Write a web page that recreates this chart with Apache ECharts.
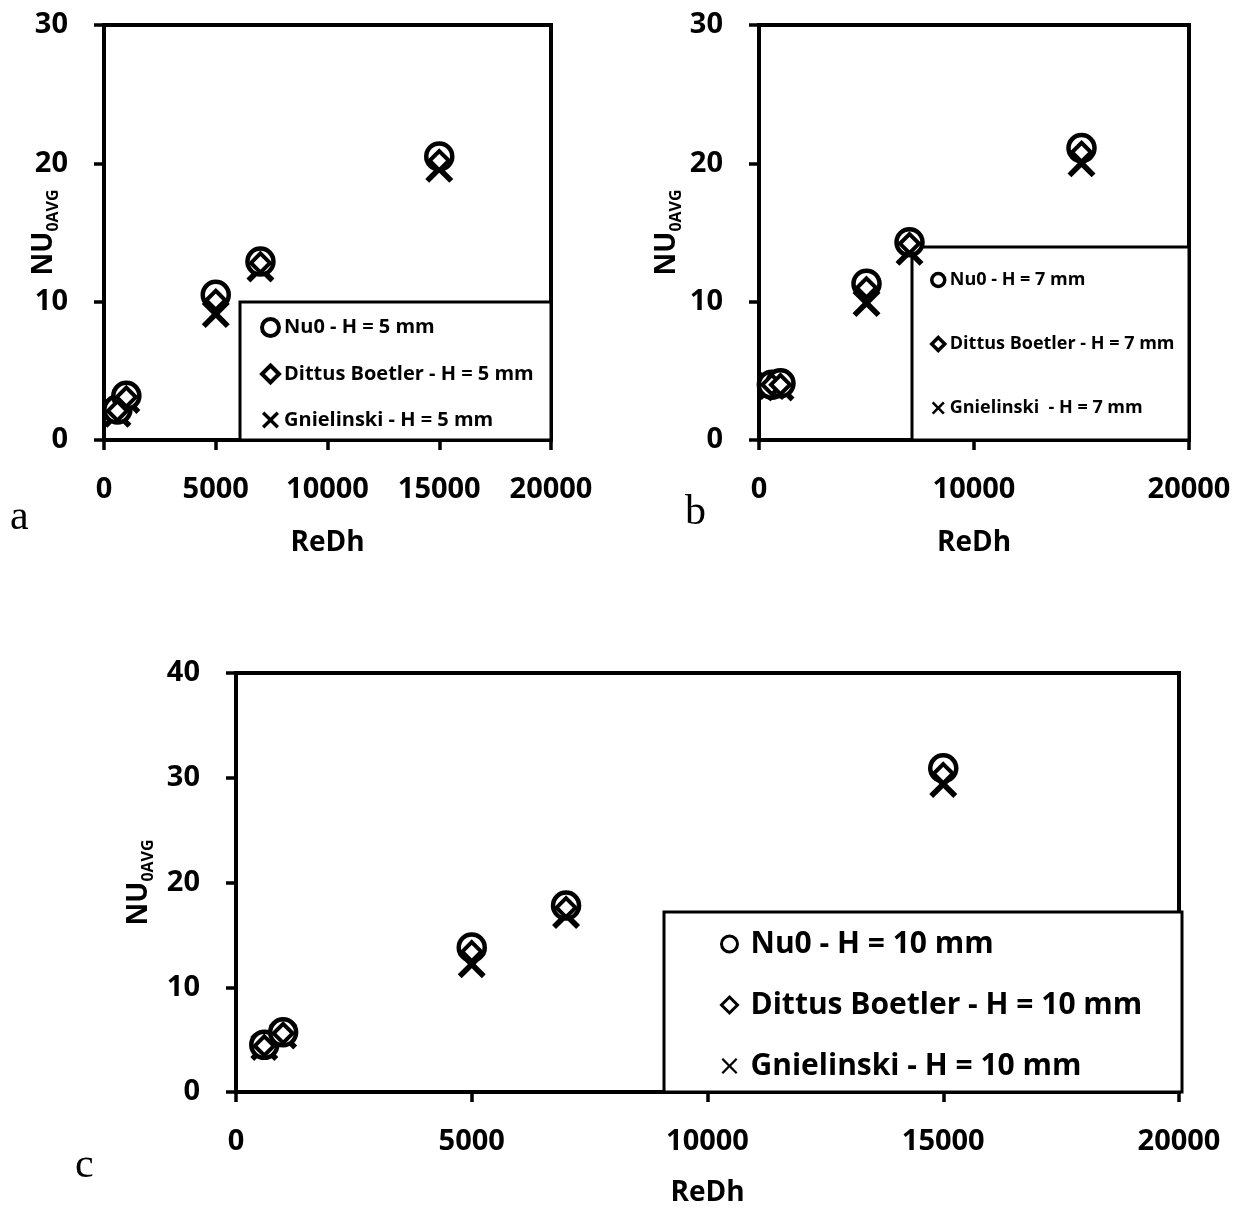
<!DOCTYPE html>
<html>
<head>
<meta charset="utf-8">
<script src="https://cdn.jsdelivr.net/npm/echarts@6/dist/echarts.min.js"></script>
<style>
  html, body { margin: 0; padding: 0; background: #fff; }
  #chart { width: 1244px; height: 1211px; }
</style>
</head>
<body>
<div id="chart"></div>
<script>
// Reynolds numbers (x values, shared by all panels)
const reDh = [600, 1000, 5000, 7000, 15000];

// Panel a: H = 5 mm
const nu0H5 = [2.2, 3.2, 10.5, 12.9, 20.5];
const dittusH5 = [2.1, 3.1, 10.1, 12.8, 20.2];
const gnielH5 = [1.9, 2.9, 9.1, 12.4, 19.6];

// Panel b: H = 7 mm
const nu0H7 = [4.0, 4.1, 11.3, 14.3, 21.1];
const dittusH7 = [4.0, 4.0, 11.0, 14.2, 20.8];
const gnielH7 = [3.9, 3.8, 9.9, 13.6, 20.0];

// Panel c: H = 10 mm
const nu0H10 = [4.5, 5.7, 13.8, 17.8, 30.9];
const dittusH10 = [4.4, 5.6, 13.4, 17.6, 30.4];
const gnielH10 = [4.3, 5.4, 12.2, 16.9, 29.4];

const namesA = ["Nu0 - H = 5 mm", "Dittus Boetler - H = 5 mm", "Gnielinski - H = 5 mm"];
const namesB = ["Nu0 - H = 7 mm", "Dittus Boetler - H = 7 mm", "Gnielinski  - H = 7 mm"];
const namesC = ["Nu0 - H = 10 mm", "Dittus Boetler - H = 10 mm", "Gnielinski - H = 10 mm"];

const FONT = "Open Sans";
const CROSS = "path://M0,1.4L1.4,0L5,3.6L8.6,0L10,1.4L6.4,5L10,8.6L8.6,10L5,6.4L1.4,10L0,8.6L3.6,5Z";
const CROSS_THIN = "path://M0,1L1,0L5,4L9,0L10,1L6,5L10,9L9,10L5,6L1,10L0,9L4,5Z";

function pts(ys) {
    return reDh.map((x, i) => [x, ys[i]]);
}

function xAxisFor(idx, interval, margin, nameGap) {
    return {
        gridIndex: idx, type: "value", min: 0, max: 20000, interval: interval,
        name: "ReDh", nameLocation: "middle", nameGap: nameGap, nameMoveOverlap: false,
        nameTextStyle: { fontFamily: FONT, fontWeight: "bold", fontSize: 28, color: "#000" },
        axisLine: { show: true, onZero: false, lineStyle: { color: "#000", width: 4 } },
        axisTick: { show: true, inside: false, length: 10, lineStyle: { color: "#000", width: 3.5 } },
        axisLabel: {
            fontFamily: FONT, fontWeight: "bold", fontSize: 29, color: "#000", margin: margin,
            formatter: (v) => String(v)
        },
        splitLine: { show: false }
    };
}

function yAxisFor(idx, max, nameGap) {
    return {
        gridIndex: idx, type: "value", min: 0, max: max, interval: 10,
        name: "{m|NU}{s|0AVG}", nameLocation: "middle", nameGap: nameGap, nameRotate: 90,
        nameMoveOverlap: false,
        nameTextStyle: {
            color: "#000",
            rich: {
                m: { fontFamily: FONT, fontWeight: "bold", fontSize: 28, lineHeight: 34, color: "#000" },
                s: { fontFamily: FONT, fontWeight: "bold", fontSize: 16, lineHeight: 20, verticalAlign: "bottom", color: "#000" }
            }
        },
        axisLine: { show: true, onZero: false, lineStyle: { color: "#000", width: 4 } },
        axisTick: { show: true, inside: false, length: 10, lineStyle: { color: "#000", width: 3.5 } },
        axisLabel: { fontFamily: FONT, fontWeight: "bold", fontSize: 29, color: "#000", margin: 36 },
        splitLine: { show: false }
    };
}

function seriesFor(idx, names, nu0, dittus, gniel, sz) {
    return [
        {
            name: names[0], type: "scatter", xAxisIndex: idx, yAxisIndex: idx, z: 3,
            symbol: "circle", symbolSize: sz.circle, data: pts(nu0),
            itemStyle: { color: "#fff", borderColor: "#000", borderWidth: 4.5, opacity: 1 }
        },
        {
            name: names[1], type: "scatter", xAxisIndex: idx, yAxisIndex: idx, z: 4,
            symbol: "diamond", symbolSize: sz.diamond, data: pts(dittus),
            itemStyle: { color: "#fff", borderColor: "#000", borderWidth: 4, opacity: 1 }
        },
        {
            name: names[2], type: "scatter", xAxisIndex: idx, yAxisIndex: idx, z: 2,
            symbol: CROSS, symbolSize: sz.cross, data: pts(gniel),
            itemStyle: { color: "#000", borderWidth: 0, opacity: 1 }
        }
    ];
}

function legendFor(names, left, top, icon, fontSize, lineHeight, gap, bw, textPad, cross) {
    return {
        orient: "vertical", left: left, top: top, padding: 0, z: 10,
        itemWidth: icon, itemHeight: icon, itemGap: gap, selectedMode: false,
        textStyle: { fontFamily: FONT, fontWeight: "bold", fontSize: fontSize, lineHeight: lineHeight, color: "#000", padding: [0, 0, 0, textPad] },
        data: [
            { name: names[0], icon: "circle", itemStyle: { color: "#fff", borderColor: "#000", borderWidth: bw } },
            { name: names[1], icon: "diamond", itemStyle: { color: "#fff", borderColor: "#000", borderWidth: bw } },
            { name: names[2], icon: cross, itemStyle: { color: "#000", borderWidth: 0 } }
        ]
    };
}

function boxRect(x1, y1, x2, y2) {
    return {
        type: "rect", z: 1, silent: true,
        shape: { x: x1, y: y1, width: x2 - x1, height: y2 - y1 },
        style: { fill: "#fff", stroke: "#000", lineWidth: 3 }
    };
}

function panelLetter(ch, x, y) {
    return {
        type: "text", z: 1, silent: true, x: x, y: y,
        style: { text: ch, fontFamily: "Liberation Serif", fontSize: 42, fill: "#000", textVerticalAlign: "middle" }
    };
}

const chart = echarts.init(document.getElementById("chart"), null, { renderer: "canvas" });

const bigMarks = { circle: 26, diamond: 19, cross: 28 };

chart.setOption({
    animation: false,
    backgroundColor: "#fff",
    grid: [
        { left: 104, top: 25, width: 447, height: 415, show: true, borderColor: "#000", borderWidth: 4 },
        { left: 759, top: 25, width: 430, height: 415, show: true, borderColor: "#000", borderWidth: 4 },
        { left: 236, top: 673, width: 943, height: 419, show: true, borderColor: "#000", borderWidth: 4 }
    ],
    xAxis: [
        xAxisFor(0, 5000, 35, 89),
        xAxisFor(1, 10000, 35, 89),
        xAxisFor(2, 5000, 35, 87)
    ],
    yAxis: [
        yAxisFor(0, 30, 43),
        yAxisFor(1, 30, 75),
        yAxisFor(2, 40, 80)
    ],
    legend: [
        legendFor(namesA, 260, 317, 17, 20, 20, 25.5, 4, 0, CROSS),
        legendFor(namesB, 930, 271, 13, 18, 18, 46, 3.5, 0, CROSS),
        legendFor(namesC, 720, 928, 16, 30, 32, 29, 3, 8, CROSS_THIN)
    ],
    graphic: [
        boxRect(240, 302, 551, 440),
        boxRect(912, 247, 1189, 440),
        boxRect(664, 912, 1182, 1092),
        panelLetter("a", 10, 518),
        panelLetter("b", 685, 513),
        panelLetter("c", 75, 1166)
    ],
    series: []
        .concat(seriesFor(0, namesA, nu0H5, dittusH5, gnielH5, bigMarks))
        .concat(seriesFor(1, namesB, nu0H7, dittusH7, gnielH7, bigMarks))
        .concat(seriesFor(2, namesC, nu0H10, dittusH10, gnielH10, bigMarks))
});
</script>
</body>
</html>
